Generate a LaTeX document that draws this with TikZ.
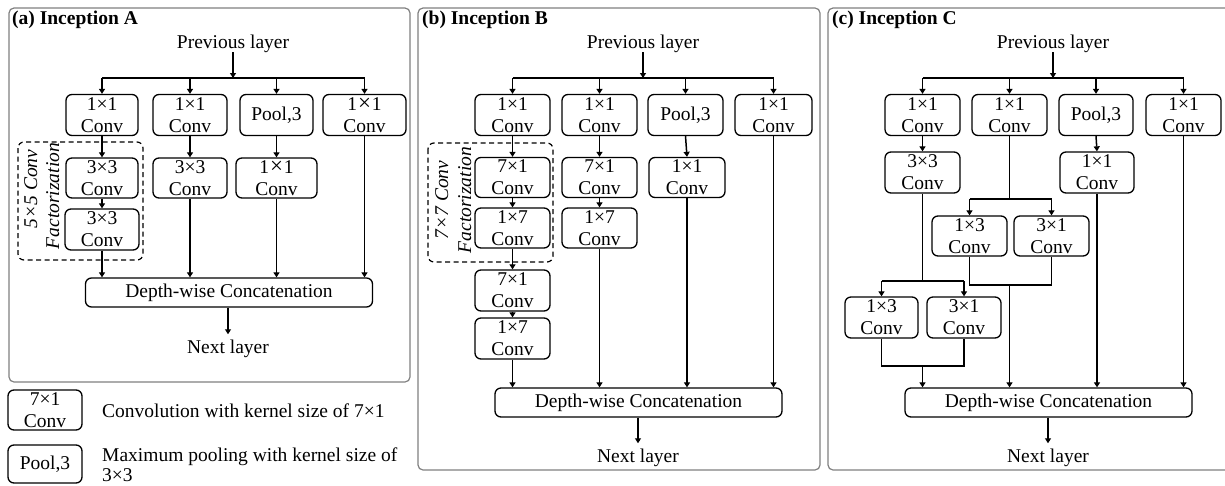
\documentclass[tikz,border=0pt]{standalone}
\usepackage{fontspec}
\setmainfont{Liberation Serif}
\usetikzlibrary{arrows.meta}
% slightly enlarged multiplication sign used in some 1x1 labels
\newcommand\widex{\kern1pt{\fontsize{23}{22}\selectfont ×}\kern1pt}
\begin{document}
\begin{tikzpicture}[x=1pt,y=-1pt,
  every node/.style={font=\fontsize{19.5}{22}\selectfont},
  cbox/.style={draw, rounded corners=6pt, line width=1.3pt, align=center,
    inner sep=0pt, minimum width=75pt, minimum height=41pt},
  catbox/.style={draw, rounded corners=6pt, line width=1.3pt, inner sep=0pt,
    minimum width=287pt, minimum height=29pt},
  frame/.style={draw=black!50, line width=1.2pt, rounded corners=5pt},
  factor/.style={draw, dashed, dash pattern=on 5pt off 3.5pt, line width=1.2pt, rounded corners=6pt},
  conn/.style={line width=1.5pt},
  arr/.style={line width=1.5pt, -{Triangle[length=5pt,width=6pt]}},
  title/.style={font=\bfseries\fontsize{19.5}{22}\selectfont, anchor=base west, inner sep=0pt},
  prevl/.style={anchor=base, inner sep=0pt},
  nextl/.style={anchor=base, inner ysep=5pt, inner xsep=0pt},
  rot/.style={font=\itshape\fontsize{19.5}{22}\selectfont, rotate=90, anchor=base, inner sep=0pt}
]
\useasboundingbox (0,0) rectangle (1225,485);

% ---------------- (a) Inception A ----------------
\draw[frame] (9,8) rectangle (410,382);
\node[title] (tA) at (12,24) {(a) Inception A};
\node[prevl] (prevA) at (233,48) {Previous layer};
\coordinate (busA) at (233,78);
\draw[factor] (18,142) rectangle (143,260);
\node[rot] (fA1) at (37,189) {5×5 Conv};
\node[rot] (fA2) at (59,196) {Factorization};

\node[cbox, minimum width=72pt] (a1) at (102,115) {1×1\\Conv};
\node[cbox, minimum width=74pt] (a2) at (190,115) {1×1\\Conv};
\node[cbox, minimum width=73pt] (a3) at (276.5,115) {Pool,3};
\node[cbox, minimum width=83pt] (a4) at (364.5,115) {1\widex1\\Conv};
\node[cbox, minimum width=72pt, minimum height=40pt] (a5) at (102,178) {3×3\\Conv};
\node[cbox, minimum width=74pt, minimum height=40pt] (a6) at (190,178) {3×3\\Conv};
\node[cbox, minimum width=81pt, minimum height=40pt] (a7) at (276.5,178) {1\widex1\\Conv};
\node[cbox, minimum width=74pt] (a8) at (102,229.5) {3×3\\Conv};
\node[catbox] (cA) at (229,292.5) {Depth-wise Concatenation};
\node[nextl] (nextA) at (228,353) {Next layer};

\draw[arr] (prevA.south) -- (prevA.south |- busA);
\draw[conn] (a1.north |- busA) -- (a4.north |- busA);
\foreach \n in {a1,a2,a3,a4} \draw[arr] (\n.north |- busA) -- (\n.north);
\draw[arr] (a1.south) -- (a5.north);
\draw[arr] (a5.south) -- (a8.north);
\draw[arr] (a2.south) -- (a6.north);
\draw[arr] (a3.south) -- (a7.north);
\foreach \n in {a8,a6,a7,a4} \draw[arr] (\n.south) -- (\n.south |- cA.north);
\draw[arr] (cA.south -| nextA.north) -- (nextA.north);

% ---------------- legend ----------------
\node[cbox, minimum width=74pt, minimum height=40pt] (k1) at (45,410) {7×1\\Conv};
\node[anchor=base west, inner sep=0pt] (k1t) at (102,417) {Convolution with kernel size of 7×1};
\node[cbox, minimum width=74pt, minimum height=38pt] (k2) at (45,464) {Pool,3};
\node[anchor=north west, inner sep=0pt, align=left, font=\fontsize{19.5}{20}\selectfont] (k2t) at (102,448)
  {Maximum pooling with kernel size of\\3×3};

% ---------------- (b) Inception B ----------------
\draw[frame] (418,8) rectangle (820,470);
\node[title] (tB) at (422,24) {(b) Inception B};
\node[prevl] (prevB) at (643,48) {Previous layer};
\coordinate (busB) at (643,78);
\draw[factor] (428,143) rectangle (553,262);
\node[rot] (fB1) at (448,200) {7×7 Conv};
\node[rot] (fB2) at (471,200) {Factorization};

\node[cbox] (b1) at (512.5,115) {1×1\\Conv};
\node[cbox] (b2) at (599.5,115) {1×1\\Conv};
\node[cbox] (b3) at (685.5,115) {Pool,3};
\node[cbox, minimum width=77pt] (b4) at (773.5,115) {1×1\\Conv};
\node[cbox, minimum height=40pt] (b5) at (512.5,177.5) {7×1\\Conv};
\node[cbox, minimum height=40pt] (b6) at (599.5,177.5) {7×1\\Conv};
\node[cbox, minimum width=76pt, minimum height=40pt] (b7) at (687,177.5) {1×1\\Conv};
\node[cbox, minimum height=40pt] (b8) at (512.5,228) {1×7\\Conv};
\node[cbox, minimum height=40pt] (b9) at (599.5,228) {1×7\\Conv};
\node[cbox] (b10) at (512.5,290.5) {7×1\\Conv};
\node[cbox] (b11) at (512.5,338.5) {1×7\\Conv};
\node[catbox] (cB) at (638.5,402.5) {Depth-wise Concatenation};
\node[nextl] (nextB) at (638,462) {Next layer};

\draw[arr] (prevB.south) -- (prevB.south |- busB);
\draw[conn] (b1.north |- busB) -- (b4.north |- busB);
\foreach \n in {b1,b2,b3,b4} \draw[arr] (\n.north |- busB) -- (\n.north);
\draw[arr] (b1.south) -- (b5.north);
\draw[arr] (b5.south) -- (b8.north);
\draw[arr] (b8.south) -- (b10.north);
\draw[arr] (b10.south) -- (b11.north);
\draw[arr] (b2.south) -- (b6.north);
\draw[arr] (b6.south) -- (b9.north);
\draw[arr] (b3.south) -- (b7.north);
\foreach \n in {b11,b9,b7,b4} \draw[arr] (\n.south) -- (\n.south |- cB.north);
\draw[arr] (cB.south -| nextB.north) -- (nextB.north);

% ---------------- (c) Inception C ----------------
\draw[frame] (828,8) rectangle (1232,470);
\node[title] (tC) at (832,24) {(c) Inception C};
\node[prevl] (prevC) at (1053,48) {Previous layer};
\coordinate (busC) at (1053,78);

\node[cbox] (c1) at (922.5,115) {1×1\\Conv};
\node[cbox] (c2) at (1009.5,115) {1×1\\Conv};
\node[cbox, minimum width=74pt] (c3) at (1096,115) {Pool,3};
\node[cbox] (c4) at (1183.5,115) {1×1\\Conv};
\node[cbox] (c5) at (922.5,172.5) {3×3\\Conv};
\node[cbox, minimum width=74pt] (c6) at (1097,172.5) {1×1\\Conv};
\node[cbox, minimum height=40pt] (c7) at (969.5,236) {1×3\\Conv};
\node[cbox, minimum height=40pt] (c8) at (1051.5,236) {3×1\\Conv};
\node[cbox, minimum width=73pt] (c9) at (881.5,317.5) {1×3\\Conv};
\node[cbox, minimum width=74pt] (c10) at (964,317.5) {3×1\\Conv};
\node[catbox] (cC) at (1048.5,402.5) {Depth-wise Concatenation};
\node[nextl] (nextC) at (1048,462) {Next layer};

\coordinate (sC2) at (1010,199);
\coordinate (jC2) at (1010,285);
\coordinate (sC1) at (922,281);
\coordinate (jC1) at (922,366);

\draw[arr] (prevC.south) -- (prevC.south |- busC);
\draw[conn] (c1.north |- busC) -- (c4.north |- busC);
\foreach \n in {c1,c2,c3,c4} \draw[arr] (\n.north |- busC) -- (\n.north);
\draw[arr] (c1.south) -- (c5.north);
\draw[arr] (c3.south) -- (c6.north);
% split of the second branch
\draw[conn] (c2.south) -- (c2.south |- sC2);
\draw[conn] (c7.north |- sC2) -- (c8.north |- sC2);
\draw[arr] (c7.north |- sC2) -- (c7.north);
\draw[arr] (c8.north |- sC2) -- (c8.north);
\draw[conn] (c7.south) -- (c7.south |- jC2) -- (c8.south |- jC2) -- (c8.south);
\draw[arr] (c2.south |- jC2) -- (c2.south |- cC.north);
% split of the first branch
\draw[conn] (c5.south) -- (c5.south |- sC1);
\draw[conn] (c9.north |- sC1) -- (c10.north |- sC1);
\draw[arr] (c9.north |- sC1) -- (c9.north);
\draw[arr] (c10.north |- sC1) -- (c10.north);
\draw[conn] (c9.south) -- (c9.south |- jC1) -- (c10.south |- jC1) -- (c10.south);
\draw[arr] (c5.south |- jC1) -- (c5.south |- cC.north);
\foreach \n in {c6,c4} \draw[arr] (\n.south) -- (\n.south |- cC.north);
\draw[arr] (cC.south -| nextC.north) -- (nextC.north);
\end{tikzpicture}
\end{document}
